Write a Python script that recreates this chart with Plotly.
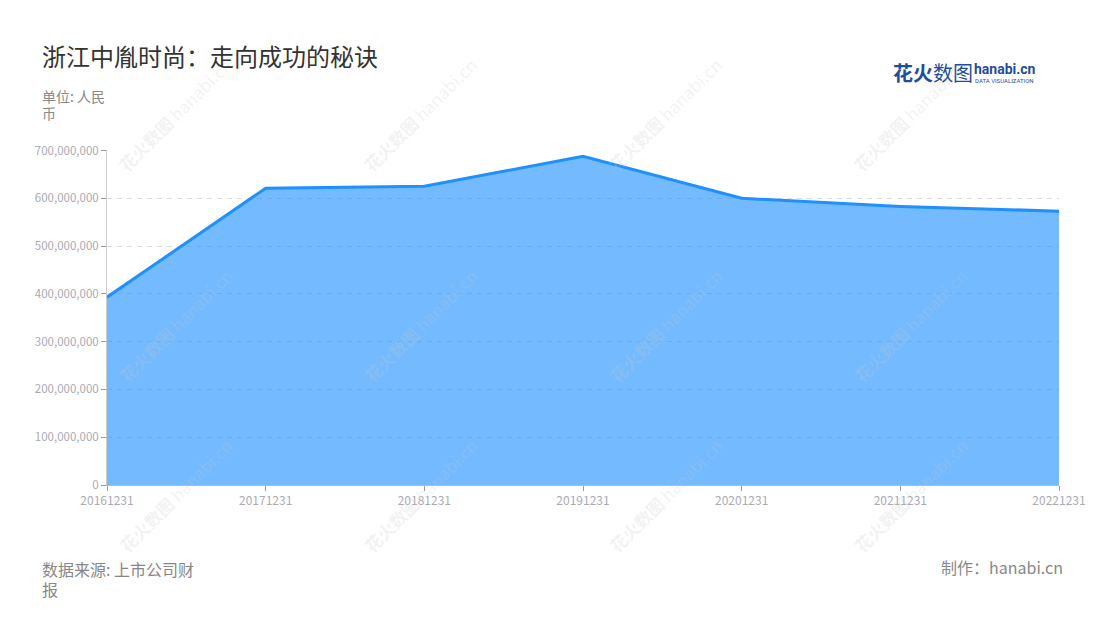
import plotly.graph_objects as go

dates = ["20161231", "20171231", "20181231", "20191231", "20201231", "20211231", "20221231"]
revenue = [393000000, 621000000, 625000000, 688000000, 600000000, 583000000, 573000000]
y_ticks = [0, 100000000, 200000000, 300000000, 400000000, 500000000, 600000000, 700000000]
y_tick_labels = ["0", "100,000,000", "200,000,000", "300,000,000", "400,000,000",
                 "500,000,000", "600,000,000", "700,000,000"]

FONT = "Noto Sans CJK SC"

# page is offset by the 8px body margin
OFF = 8
L, R, T, B = 99, 49, 142, 143
W, H = 1100, 620
PW, PH = W - L - R, H - T - B


def px(x):
    return (x - OFF - L) / PW


def py(y):
    return (H - B - (y - OFF)) / PH


fig = go.Figure()
fig.add_trace(go.Scatter(
    x=dates, y=revenue, mode="lines",
    line=dict(color="#1E90FF", width=3),
    fill="tozeroy", fillcolor="rgba(30,144,255,0.62)",
    hoverinfo="x+y",
))

fig.update_layout(
    width=W, height=H,
    paper_bgcolor="white", plot_bgcolor="white",
    margin=dict(l=L, r=R, t=T, b=B),
    showlegend=False,
    font=dict(family=FONT, color="#999999", size=11),
    xaxis=dict(
        type="category", range=[0, 6], showgrid=False,
        showline=True, linecolor="#BBBBBB", linewidth=1,
        ticks="outside", ticklen=5, tickcolor="#999999",
        tickfont=dict(size=12, color="#AAAAB4", family=FONT),
        zeroline=False,
    ),
    yaxis=dict(
        range=[0, 701000000], tickvals=y_ticks, ticktext=y_tick_labels,
        showgrid=True, gridcolor="#DDDDDD", griddash="5px,5px", gridwidth=1,
        showline=True, linecolor="#CCCCCC", linewidth=1,
        ticks="outside", ticklen=5, tickcolor="#999999",
        tickfont=dict(size=11.5, color="#AAAAB4", family=FONT),
        zeroline=False,
    ),
)

# watermarks (screen pixel centres)
wm_positions = [(175, 115), (420, 115), (665, 115), (910, 115),
                (175, 325), (420, 325), (665, 325), (910, 325),
                (175, 495), (420, 495), (665, 495), (910, 495)]
for (wx, wy) in wm_positions:
    fig.add_annotation(
        x=px(wx), y=py(wy), xref="paper", yref="paper",
        text="<b>花火数图</b> hanabi.cn", showarrow=False, textangle=-45,
        font=dict(family=FONT, size=17, color="rgba(200,200,200,0.22)"),
        xanchor="center", yanchor="middle",
    )


def label(text, x, y, size, color, anchor="left", family=FONT, h=None):
    fig.add_annotation(
        x=px(x), y=py(y), xref="paper", yref="paper",
        text=text, showarrow=False, align=anchor,
        xanchor=anchor, yanchor="middle", borderpad=0, height=h,
        font=dict(family=family, size=size, color=color),
    )


# title
label("浙江中胤时尚：走向成功的秘诀", 41, 55, 24, "#333333")
# unit (wrapped as in the reference)
label("单位: 人民", 41, 96, 14, "#888888", h=16)
label("币", 41, 113, 14, "#888888", h=16)
# logo
label("<b>花火</b>数图", 892, 72, 20, "#1F4E9C")
label("<b>hanabi.cn</b>", 973, 69, 14, "#1F4E9C", family="Roboto")
label("DATA VISUALIZATION", 974, 80, 6, "#1F4E9C", family="Roboto")
# footer
label("数据来源: 上市公司财", 41, 568, 16, "#888888", h=19)
label("报", 41, 588, 16, "#888888", h=19)
label("制作：hanabi.cn", 1064, 567, 16, "#888888", anchor="right")

fig.write_html("out.html")
